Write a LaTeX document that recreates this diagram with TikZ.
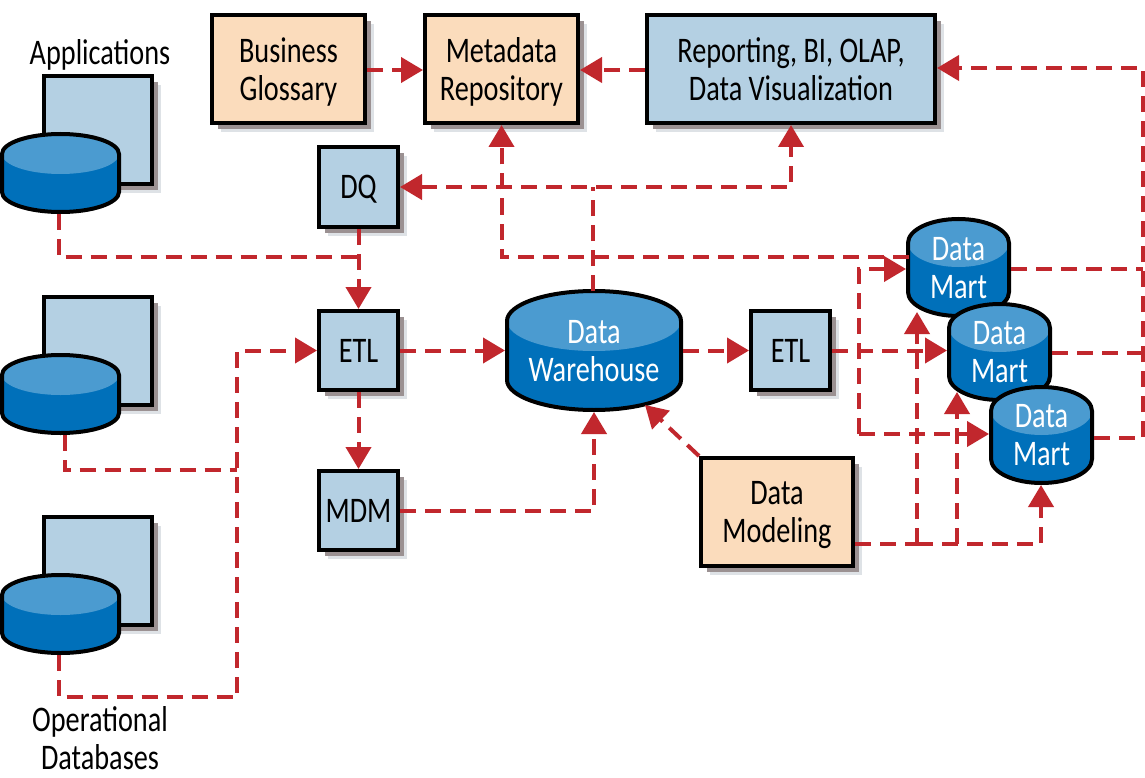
\documentclass[tikz,border=0pt]{standalone}
\usepackage{fontspec}
\setmainfont[FakeStretch=0.785]{Carlito}
\usetikzlibrary{arrows.meta,shadows,calc}
\definecolor{bluebox}{RGB}{180,208,227}
\definecolor{orangebox}{RGB}{251,220,188}
\definecolor{cyldark}{RGB}{0,112,186}
\definecolor{cyllight}{RGB}{75,155,208}
\definecolor{link}{RGB}{193,39,45}
\definecolor{shadowdark}{RGB}{155,145,146}
\definecolor{shadowlight}{RGB}{222,226,230}
\tikzset{
  x=1pt,y=-1pt,
  labeltext/.style={font=\fontsize{36}{38}\selectfont,align=center,text=black,text depth=0pt},
  shadowed/.style={general shadow={shadow xshift=9pt,shadow yshift=-9pt,fill=shadowlight},
                   general shadow={shadow xshift=6pt,shadow yshift=-6pt,fill=shadowdark}},
  boxbase/.style={draw=black,line width=4pt,shadowed,labeltext,inner sep=0pt},
  bluenode/.style={boxbase,fill=bluebox},
  orangenode/.style={boxbase,fill=orangebox},
  conn/.style={draw=link,line width=4pt,dash pattern=on 16pt off 9pt},
  arr/.style={conn,-{Triangle[length=22pt,width=25pt,fill=link]}},
  arrboth/.style={conn,{Triangle[length=22pt,width=25pt,fill=link]}-{Triangle[length=22pt,width=25pt,fill=link]}},
}
% name, xl, xr, yt, yb (outer extents), ry, text
\newcommand{\cylshape}[7]{%
  \fill[cyldark] (#2+2,#4+2+#6) arc[start angle=180,end angle=0,x radius={(#3-#2-4)/2*1pt},y radius=#6pt]
     -- (#3-2,#5-2-#6) arc[start angle=0,end angle=-180,x radius={(#3-#2-4)/2*1pt},y radius=#6pt] -- cycle;
  \fill[cyllight] ({(#2+#3)/2},#4+2+#6) ellipse[x radius={(#3-#2-4)/2*1pt},y radius=#6pt];
  \draw[black,line width=4pt] (#2+2,#4+2+#6) arc[start angle=180,end angle=0,x radius={(#3-#2-4)/2*1pt},y radius=#6pt]
     -- (#3-2,#5-2-#6) arc[start angle=0,end angle=-180,x radius={(#3-#2-4)/2*1pt},y radius=#6pt] -- cycle;
  \node[labeltext,text=white,inner sep=0pt,outer sep=0pt,minimum width={(#3-#2)*1pt},minimum height={(#5-#4)*1pt}]
     (#1) at ({(#2+#3)/2},{(#4+#5)/2}) {#7};
}
\begin{document}
\begin{tikzpicture}
\useasboundingbox (0,0) rectangle (1145,778);
\fill[white] (0,0) rectangle (1145,778);

\node[labeltext] (applications) at (100,52) {Applications};
\node[labeltext] (operational) at (100,738) {Operational\\Databases};

\node[bluenode,minimum width=108pt,minimum height=108pt] (docA) at (98,130) {};
\node[bluenode,minimum width=108pt,minimum height=108pt] (docB) at (98,351) {};
\node[bluenode,minimum width=108pt,minimum height=108pt] (docC) at (98,571) {};
\cylshape{cylA}{0}{121}{132}{214}{20}{}
\cylshape{cylB}{0}{121}{353}{435}{20}{}
\cylshape{cylC}{0}{121}{573}{655}{20}{}

\node[orangenode,minimum width=153pt,minimum height=108pt] (glossary) at (288.5,69) {Business\\Glossary};
\node[orangenode,minimum width=153pt,minimum height=108pt] (metadata) at (501.5,69) {Metadata\\Repository};
\node[bluenode,minimum width=288pt,minimum height=108pt] (reporting) at (791,69) {Reporting, BI, OLAP,\\Data Visualization};
\node[bluenode,minimum width=79pt,minimum height=80pt] (dq) at (358.5,187) {DQ};
\node[bluenode,minimum width=79pt,minimum height=79pt] (etlA) at (358.5,350.5) {ETL};
\node[bluenode,minimum width=79pt,minimum height=79pt] (mdm) at (358.5,510.5) {MDM};
\node[bluenode,minimum width=79pt,minimum height=79pt] (etlB) at (790.5,350.5) {ETL};
\node[orangenode,minimum width=152pt,minimum height=108pt] (modeling) at (777,512) {Data\\Modeling};

\cylshape{warehouse}{505}{683}{289}{412}{30}{Data\\Warehouse}
\cylshape{martA}{906}{1011}{217}{318}{24}{Data\\Mart}
\cylshape{martB}{947}{1052}{302}{402}{24}{Data\\Mart}
\cylshape{martC}{989}{1094}{385}{485}{24}{Data\\Mart}

% junction coordinates
\coordinate (jA) at (359,257);
\coordinate (jB) at (237,470);
\coordinate (jC) at (593,187);
\coordinate (jD) at (917,544);
\coordinate (jE) at (957,544);
\coordinate (jF) at (859,269);
\coordinate (jG) at (859,434);
\coordinate (jH) at (909,257);
\coordinate (railT) at (1143,68);

\draw[arr] (glossary.east |- 0,70) -- (metadata.west |- 0,70);
\draw[arr] (reporting.west |- 0,70) -- (metadata.east |- 0,70);

\draw[conn] ([xshift=-2pt]cylA.south) |- (jA);
\draw[arr] (dq.south) -- (etlA.north);
\draw[conn] ([xshift=4pt]cylB.south) |- (jB);
\draw[arr] ([xshift=-2pt]cylC.south) |- (237,697) -- (jB) |- (etlA.west);
\draw[arr] (etlA.east) -- (warehouse.west);
\draw[arr] (etlA.south) -- (mdm.north);
\draw[arr] (mdm.east) -| (warehouse.south);
\draw[arrboth] (dq.east) -- (jC) -| (reporting.south);
\draw[conn] ([xshift=-1pt,yshift=-2pt]warehouse.north) -- (jC);
\draw[arr] (warehouse.east) -- (etlB.west);
\draw[arr] (modeling.north west) -- ([xshift=51pt,yshift=7pt]warehouse.south);

\draw[arr] (jH) -| (metadata.south);
\draw[arr] (etlB.east) -- (martB.west |- etlB.east);
\draw[arr] (jG) |- ([yshift=-1.5pt]martA.west);
\draw[arr] (jG) -- (martC.west |- jG);

\draw[conn] (modeling.east |- jD) -- (jD);
\draw[arr] (jD) -| ([xshift=-0.5pt]martC.south);
\draw[arr] (jD) -- ([xshift=-41.5pt,yshift=6pt]martA.south);
\draw[arr] (jE) -- ([xshift=-42.5pt,yshift=10pt]martB.south);

\draw[conn] ([yshift=-1.5pt]martA.east) -- (railT |- 0,269);
\draw[conn] ([yshift=-1pt]martB.east) -- (railT |- 0,353);
\draw[arr] ([yshift=-3pt]martC.east) -| (railT) -- (reporting.east |- railT);
\end{tikzpicture}
\end{document}
